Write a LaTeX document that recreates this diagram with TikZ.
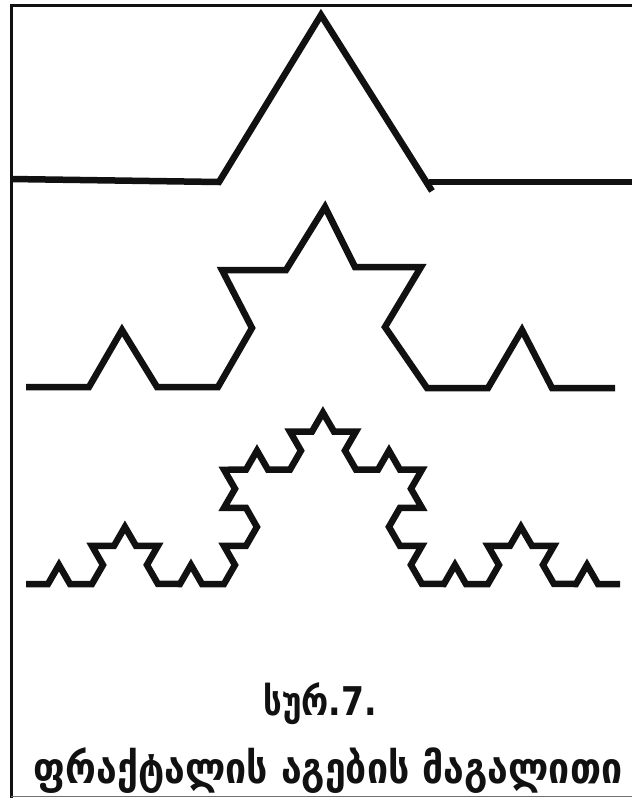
\documentclass[tikz,border=0pt]{standalone}
\usepackage{fontspec}
\newfontfamily\geofont{DejaVu Sans}
\usetikzlibrary{decorations.fractals}
\definecolor{Ink}{HTML}{111111}
\definecolor{Rule}{HTML}{707070}
\tikzset{koch/.style={line width=6.5pt,draw=Ink,line join=miter,line cap=butt},
  frameline/.style={line width=3pt,draw=Ink},
  caption/.style={inner sep=0pt,text=Ink,anchor=base}}

\begin{document}
\begin{tikzpicture}[x=1pt,y=-1pt]
    \useasboundingbox (0,0) rectangle (632,798);
    % frame
    \draw[frameline] (11,798) -- (11,5.5) -- (632,5.5);
    \draw[line width=1.4pt,draw=Rule] (11,796.5) -- (632,796.5);
    % first step
    \draw[koch] (11,179) -- (219,182) -- (321,15) -- (432,191);
    \draw[koch] (429,182) -- (632,182);
    % second step
    \draw[koch] (26,387) -- (89,387) -- (122,330) -- (157,387) -- (218,387)
      -- (252,328) -- (222,270) -- (286,270) -- (325,207) -- (355,267)
      -- (421,267) -- (385,327) -- (427,388) -- (488,388) -- (522,330)
      -- (552,388) -- (615,388);
    % third step
    \coordinate (k3a) at (26,584);
    \coordinate (k3b) at (620,584);
    \draw[koch,decoration=Koch snowflake]
      decorate{decorate{decorate{(k3a) -- (k3b)}}};
    % caption
    \node[caption,font=\geofont\bfseries\fontsize{33}{38}\selectfont] (fig) at (320,715)
      {\scalebox{1}[1.2]{სურ.7.}};
    \node[caption,font=\geofont\bfseries\fontsize{37.5}{42}\selectfont] (title) at (328,783)
      {\scalebox{1}[1.15]{ფრაქტალის აგების მაგალითი}};
\end{tikzpicture}
\end{document}
